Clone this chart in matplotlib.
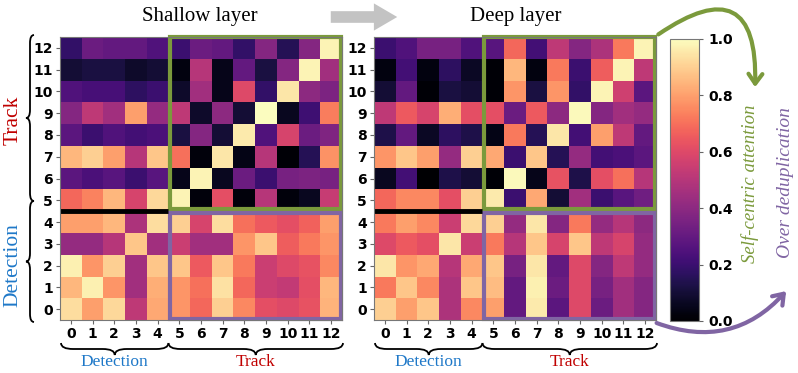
import numpy as np
import matplotlib
matplotlib.use("Agg")
import matplotlib.pyplot as plt
from matplotlib.path import Path
from matplotlib.patches import PathPatch, Rectangle, FancyArrowPatch

# Data: attention maps, rows listed from query 12 (top) down to query 0
shallow_rows = [
    [0.18, 0.32, 0.30, 0.30, 0.25, 0.20, 0.32, 0.30, 0.18, 0.38, 0.15, 0.38, 0.98],
    [0.10, 0.12, 0.12, 0.08, 0.10, 0.03, 0.50, 0.05, 0.30, 0.12, 0.38, 0.98, 0.45],
    [0.25, 0.23, 0.23, 0.17, 0.20, 0.08, 0.45, 0.05, 0.60, 0.18, 0.95, 0.40, 0.36],
    [0.38, 0.52, 0.45, 0.80, 0.42, 0.52, 0.08, 0.40, 0.10, 1.00, 0.06, 0.21, 0.73],
    [0.28, 0.20, 0.25, 0.22, 0.24, 0.12, 0.38, 0.10, 0.96, 0.25, 0.58, 0.32, 0.37],
    [0.85, 0.90, 0.80, 0.50, 0.88, 0.70, 0.02, 0.95, 0.04, 0.50, 0.01, 0.15, 0.77],
    [0.28, 0.24, 0.27, 0.20, 0.27, 0.05, 0.98, 0.06, 0.32, 0.20, 0.35, 0.36, 0.35],
    [0.68, 0.74, 0.85, 0.58, 0.92, 0.98, 0.02, 0.62, 0.02, 0.50, 0.02, 0.06, 0.54],
    [0.80, 0.80, 0.85, 0.48, 0.93, 0.90, 0.58, 0.93, 0.70, 0.65, 0.62, 0.67, 0.80],
    [0.42, 0.42, 0.50, 0.88, 0.45, 0.55, 0.45, 0.45, 0.78, 0.88, 0.66, 0.72, 0.78],
    [0.97, 0.78, 0.90, 0.45, 0.88, 0.88, 0.65, 0.88, 0.72, 0.55, 0.60, 0.63, 0.75],
    [0.85, 0.97, 0.78, 0.45, 0.83, 0.78, 0.70, 0.94, 0.68, 0.55, 0.53, 0.62, 0.85],
    [0.93, 0.80, 0.92, 0.52, 0.82, 0.78, 0.68, 0.90, 0.75, 0.62, 0.60, 0.63, 0.84],
]
deep_rows = [
    [0.20, 0.25, 0.35, 0.35, 0.25, 0.27, 0.68, 0.22, 0.52, 0.38, 0.48, 0.72, 0.98],
    [0.03, 0.22, 0.03, 0.17, 0.07, 0.01, 0.85, 0.03, 0.72, 0.20, 0.66, 0.98, 0.52],
    [0.10, 0.30, 0.01, 0.12, 0.10, 0.01, 0.78, 0.12, 0.78, 0.18, 0.98, 0.56, 0.28],
    [0.52, 0.65, 0.58, 0.83, 0.62, 0.62, 0.32, 0.65, 0.40, 0.99, 0.38, 0.45, 0.42],
    [0.13, 0.30, 0.07, 0.17, 0.13, 0.04, 0.72, 0.15, 0.95, 0.22, 0.80, 0.52, 0.30],
    [0.78, 0.88, 0.80, 0.42, 0.90, 0.82, 0.20, 0.88, 0.15, 0.42, 0.22, 0.24, 0.28],
    [0.06, 0.22, 0.00, 0.13, 0.10, 0.01, 0.99, 0.05, 0.63, 0.13, 0.62, 0.70, 0.50],
    [0.68, 0.75, 0.75, 0.62, 0.90, 0.96, 0.20, 0.82, 0.10, 0.45, 0.20, 0.27, 0.33],
    [0.72, 0.80, 0.75, 0.55, 0.92, 0.90, 0.42, 0.95, 0.38, 0.72, 0.42, 0.50, 0.40],
    [0.60, 0.65, 0.62, 0.95, 0.55, 0.72, 0.50, 0.88, 0.58, 0.88, 0.52, 0.58, 0.42],
    [0.95, 0.78, 0.82, 0.50, 0.82, 0.88, 0.35, 0.95, 0.30, 0.60, 0.38, 0.52, 0.42],
    [0.72, 0.88, 0.75, 0.48, 0.88, 0.86, 0.30, 0.97, 0.32, 0.60, 0.35, 0.45, 0.38],
    [0.90, 0.80, 0.88, 0.48, 0.75, 0.80, 0.30, 0.96, 0.28, 0.60, 0.32, 0.45, 0.38],
]
tokens = list(range(13))
n_det = 5
titles = ["Shallow layer", "Deep layer"]

GREEN = "#7b9a3c"
PURPLE = "#8065a3"
RED = "#c00000"
BLUE = "#1e78c8"
W, H = 798, 373

fig = plt.figure(figsize=(W / 100, H / 100), dpi=100)


def fx(px):
    return px / W


def fy(py):
    return 1 - py / H


def brace_path(x0, x1, y, depth, vertical=False):
    # curly brace between x0 and x1, tips at y, cusp at y+depth
    m = (x0 + x1) / 2
    h = depth / 2
    r = min(abs(depth), (x1 - x0) / 6) * np.sign(x1 - x0)
    pts = [(x0, y), (x0, y + h), (x0 + r, y + h), (m - r, y + h), (m, y + h), (m, y + depth),
           (m, y + h), (m + r, y + h), (x1 - r, y + h), (x1, y + h), (x1, y)]
    codes = [Path.MOVETO, Path.CURVE3, Path.CURVE3, Path.LINETO, Path.CURVE3, Path.CURVE3,
             Path.CURVE3, Path.CURVE3, Path.LINETO, Path.CURVE3, Path.CURVE3]
    if vertical:
        pts = [(b, a) for a, b in pts]
    return Path(pts, codes)


ax_lefts = [60, 374]
mats = [shallow_rows, deep_rows]
for k in range(2):
    ax = fig.add_axes([fx(ax_lefts[k]), fy(320), 282 / W, 283 / H])
    data = np.flipud(np.array(mats[k]))
    ax.imshow(data, cmap="magma", vmin=0, vmax=1, origin="lower", aspect="auto",
              interpolation="nearest")
    ax.set_xticks(tokens)
    ax.set_yticks(tokens)
    ax.set_xticklabels(tokens, fontweight="bold", fontsize=10)
    ax.set_yticklabels(tokens, fontweight="bold", fontsize=10)
    ax.tick_params(length=3, color="#666666", pad=2)
    for s in ax.spines.values():
        s.set_color("#777777")
        s.set_linewidth(0.8)
    # separator between detection and track queries
    ax.plot([-0.5, n_det - 0.5], [n_det - 0.5, n_det - 0.5], color="black", lw=3.5,
            solid_capstyle="butt", clip_on=False)
    ax.add_patch(Rectangle((n_det - 0.45, n_det - 0.42), 13 - n_det - 0.1, 13 - n_det - 0.1,
                           fill=False, ec=GREEN, lw=3, clip_on=False))
    ax.add_patch(Rectangle((n_det - 0.45, -0.45), 13 - n_det - 0.1, n_det - 0.12,
                           fill=False, ec=PURPLE, lw=3, clip_on=False))

# colorbar
cax = fig.add_axes([fx(670), fy(321), 29 / W, 282 / H])
sm = plt.cm.ScalarMappable(cmap="magma", norm=plt.Normalize(0, 1))
cb = fig.colorbar(sm, cax=cax, ticks=np.arange(0, 1.01, 0.2))
cb.ax.set_yticklabels([f"{t:.1f}" for t in np.arange(0, 1.01, 0.2)], fontweight="bold",
                      fontsize=10)
cb.ax.tick_params(length=3, color="#666666")
cb.outline.set_edgecolor("#777777")

# overlay for annotations in pixel coordinates
ov = fig.add_axes([0, 0, 1, 1], zorder=10)
ov.set_xlim(0, W)
ov.set_ylim(H, 0)
ov.axis("off")
ov.patch.set_alpha(0)

serif = "Liberation Serif"
ov.text(200, 17, titles[0], ha="center", va="center", fontsize=15, family=serif)
ov.text(516, 17, titles[1], ha="center", va="center", fontsize=15, family=serif)
ov.add_patch(FancyArrowPatch((328, 17), (400, 17), arrowstyle="simple,head_width=1.4,head_length=1.2,tail_width=0.6",
                             mutation_scale=14, color="#c3c3c3", lw=0))

# left braces
ov.add_patch(PathPatch(brace_path(35, 201, 34, -8, vertical=True), fill=False, lw=1.3))
ov.add_patch(PathPatch(brace_path(201, 322, 34, -8, vertical=True), fill=False, lw=1.3))
ov.text(13, 120, "Track", rotation=90, ha="center", va="center", fontsize=15.5,
        family=serif, color=RED)
ov.text(13, 265, "Detection", rotation=90, ha="center", va="center", fontsize=15.5,
        family=serif, color=BLUE)

# bottom braces
for left in ax_lefts:
    cw = 282 / 13
    split = left + n_det * cw
    ov.add_patch(PathPatch(brace_path(left + 1, split, 343, 12), fill=False, lw=1.3))
    ov.add_patch(PathPatch(brace_path(split, left + 283, 343, 12), fill=False, lw=1.3))
    ov.text((left + split) / 2, 362, "Detection", ha="center", va="center", fontsize=12.5,
            family=serif, color=BLUE)
    ov.text((split + left + 283) / 2, 362, "Track", ha="center", va="center", fontsize=12.5,
            family=serif, color=RED)

# side arrows and notes
ov.add_patch(FancyArrowPatch((656, 36), (755, 90), connectionstyle="arc3,rad=-1.0",
                             arrowstyle="->,head_width=5,head_length=7", mutation_scale=1,
                             color=GREEN, lw=3, capstyle="round", joinstyle="round"))
ov.add_patch(FancyArrowPatch((654, 322), (788, 289), connectionstyle="arc3,rad=0.35",
                             arrowstyle="->,head_width=5,head_length=7", mutation_scale=1,
                             color=PURPLE, lw=3, capstyle="round", joinstyle="round"))
ov.text(750, 184, "Self-centric attention", rotation=90, ha="center", va="center",
        fontsize=13.5, family=serif, style="italic", color=GREEN)
ov.text(786, 183, "Over deduplication", rotation=90, ha="center", va="center",
        fontsize=14, family=serif, style="italic", color=PURPLE)

fig.savefig("out.png", dpi=100)
